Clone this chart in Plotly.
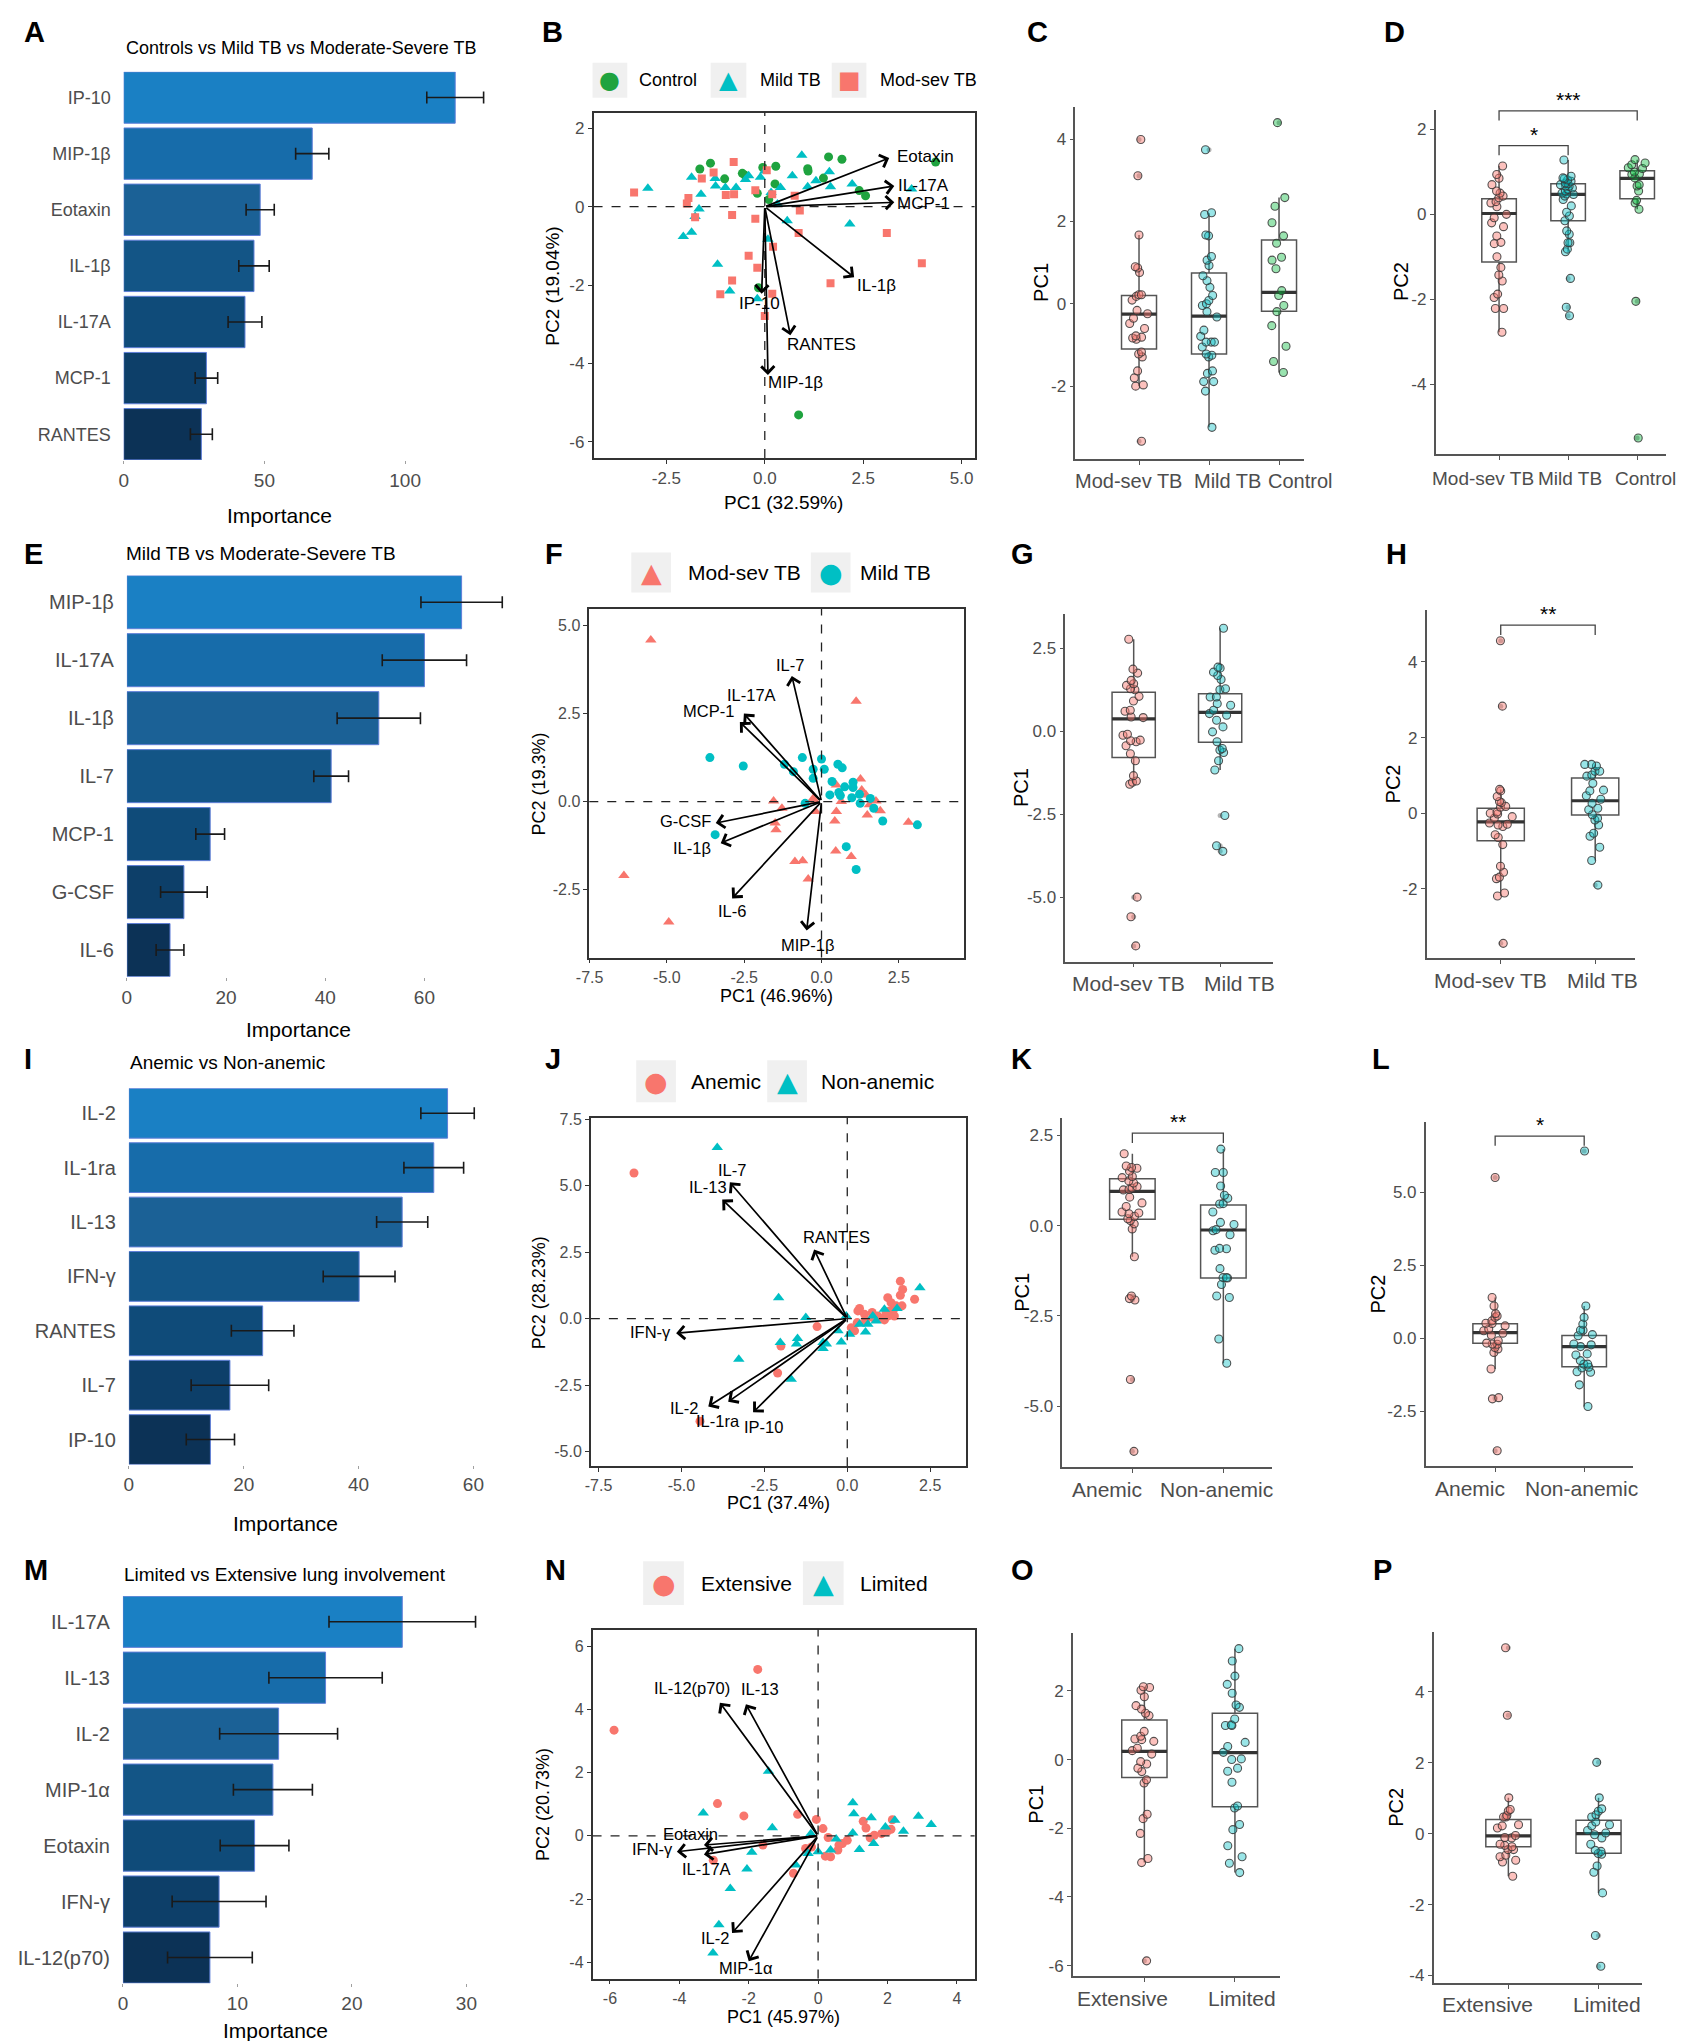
import plotly.graph_objects as go

W, H = 1686, 2041
FONT = "Liberation Sans, Arial, Helvetica, sans-serif"
GLYPH_FONT = "DejaVu Sans"
TICK_GREY = "#4d4d4d"
RED, CYAN, GREEN = "#F8766D", "#00BFC4", "#1FA33F"
FILL = {RED: "rgba(248,118,109,0.45)", CYAN: "rgba(0,191,196,0.40)", GREEN: "rgba(0,186,56,0.40)"}
BAR_COLORS = ["#1a80c4", "#176caa", "#1b6196", "#135586", "#0f4b79", "#0d3f69", "#0c3256"]

# ---------------- variable importance (bars) ----------------
A_names = ["IP-10", "MIP-1β", "Eotaxin", "IL-1β", "IL-17A", "MCP-1", "RANTES"]
A_imp = [117.8, 67.0, 48.5, 46.3, 43.1, 29.4, 27.6]
A_err = [10.1, 5.9, 5.0, 5.4, 6.0, 4.0, 3.9]

E_names = ["MIP-1β", "IL-17A", "IL-1β", "IL-7", "MCP-1", "G-CSF", "IL-6"]
E_imp = [67.5, 60.0, 50.8, 41.2, 16.8, 11.5, 8.7]
E_err = [8.2, 8.5, 8.4, 3.5, 2.9, 4.7, 2.8]

I_names = ["IL-2", "IL-1ra", "IL-13", "IFN-γ", "RANTES", "IL-7", "IP-10"]
I_imp = [55.5, 53.1, 47.6, 40.1, 23.3, 17.6, 14.2]
I_err = [4.65, 5.2, 4.45, 6.25, 5.45, 6.75, 4.2]

M_names = ["IL-17A", "IL-13", "IL-2", "MIP-1α", "Eotaxin", "IFN-γ", "IL-12(p70)"]
M_imp = [24.4, 17.7, 13.6, 13.1, 11.5, 8.4, 7.6]
M_err = [6.4, 4.95, 5.15, 3.45, 3.0, 4.1, 3.7]

# ---------------- PCA scores and loadings ----------------
B_ctrl_x = [-1.38, -1.65, -1.02, -0.57, -0.50, -0.05, 0.28, 1.09, 1.10, 1.62, 1.96, 1.49, 0.26, -0.19, 2.40, 2.56, 4.34, -0.16, 0.86, 0.10]
B_ctrl_y = [1.11, 0.96, 0.71, 0.85, 0.80, 1.00, 1.03, 0.97, 0.91, 1.27, 1.21, 0.73, 0.58, 0.34, 0.41, 0.28, 1.14, -2.07, -5.31, 0.18]
B_mild_x = [-2.97, -1.86, -1.62, -1.67, -1.77, -1.86, -2.07, -1.26, -1.25, -1.00, -0.73, -0.41, -0.11, 0.00, 0.40, 0.70,
            0.94, 1.09, 1.64, 1.67, 2.22, 2.16, 0.57, 0.08, -1.20, -0.89, -0.19, 3.73, 0.16, -0.49, 1.30, 0.32]
B_mild_y = [0.47, 0.75, 0.32, -0.06, -0.25, -0.65, -0.76, 0.72, 0.53, 0.49, 0.49, 0.79, 0.75, 0.91, 0.49, 0.79,
            1.31, 0.51, 0.89, 0.51, 0.58, -0.44, -0.36, -0.83, -1.47, -2.15, -2.35, 0.45, 0.36, 0.69, 0.66, 0.07]
B_mod_x = [-3.32, -1.94, -1.98, -1.77, -1.60, -1.30, -0.79, -0.99, -0.78, -0.83, -0.24, -0.24, 0.05, 0.19, 0.76, 0.89,
           0.86, 0.21, -0.41, -0.19, -0.83, -1.13, 0.19, 0.00, 1.67, 3.10, 3.99]
B_mod_y = [0.36, 0.22, 0.08, -0.27, 0.72, 0.87, 1.14, 0.30, 0.32, -0.21, 0.42, -0.31, 0.93, 0.32, 0.28, -0.10,
           -0.67, -1.02, -1.25, -1.56, -1.88, -2.23, -2.22, -2.79, -1.95, -0.67, -1.44]
B_load_names = ["Eotaxin", "IL-17A", "MCP-1", "IL-1β", "RANTES", "MIP-1β", "IP-10"]
B_load_x = [3.16, 3.29, 3.29, 2.27, 0.65, 0.08, -0.08]
B_load_y = [1.24, 0.53, 0.11, -1.80, -3.28, -4.29, -2.22]

F_mod_x = [-5.52, 1.12, -1.55, -1.28, -1.50, -1.47, -0.21, -0.27, -0.19, 0.48, 0.64, 1.26, 1.30, 1.44, 1.55, 1.76,
           1.90, 1.48, 0.48, 0.43, 2.81, 0.46, 0.96, -0.86, -0.61, -0.43, -6.39, -4.94]
F_mod_y = [4.59, 2.85, 0.02, -0.19, -0.61, -0.80, 0.00, 0.09, -0.28, 0.47, 0.00, 0.64, 0.33, 0.19, -0.09, 0.02,
           -0.26, -0.38, -0.28, -0.55, -0.59, -1.40, -1.56, -1.70, -1.68, -2.20, -2.10, -3.42]
F_mild_x = [-3.61, -2.53, -1.20, -0.91, -0.62, 0.00, 0.09, -0.27, -0.27, 0.53, 0.67, 0.34, 0.75, 1.02, 1.02, 0.56,
            0.27, 0.61, 0.98, 1.23, 1.25, 1.58, 1.69, 1.98, 3.10, -3.44, 0.80, 1.12, -0.53]
F_mild_y = [1.25, 1.01, 1.06, 0.85, 1.25, 1.21, 0.92, 0.92, 0.66, 1.06, 0.96, 0.57, 0.42, 0.55, 0.40, 0.26,
            0.19, 0.17, 0.11, 0.21, -0.05, 0.09, -0.19, -0.55, -0.66, -0.94, -1.28, -1.93, -0.05]
F_load_names = ["IL-7", "IL-17A", "MCP-1", "G-CSF", "IL-1β", "IL-6", "MIP-1β"]
F_load_x = [-0.96, -2.51, -2.64, -3.42, -3.26, -2.89, -0.48]
F_load_y = [3.57, 2.50, 2.26, -0.61, -1.18, -2.75, -3.66]

J_an_x = [-6.43, -0.91, -2.00, -2.10, -4.44, 0.37, 0.32, 0.12, 0.22, 0.30, 0.55, 0.75, 0.92, 1.07, 1.22, 1.22,
          1.32, 1.40, 1.47, 1.60, 1.67, 1.60, 1.65, 2.03, 1.27, 0.52, 1.17, 1.42, 0.77, 1.12]
J_an_y = [5.48, -0.30, -1.03, -2.05, -3.86, 0.38, 0.29, -0.34, -0.46, -0.15, -0.09, 0.23, 0.10, 0.00, 0.10, 0.79,
          0.60, 0.35, 0.48, 1.41, 1.10, 0.88, 0.48, 0.73, 0.29, 0.16, 0.23, 0.10, 0.04, -0.05]
J_non_x = [-3.92, -2.07, -1.25, -2.02, -1.50, -1.53, -3.27, -1.69, -0.73, -0.73, -0.63, -0.28, -0.18, -0.03, 0.07,
           0.37, 0.55, 0.62, 0.87, 1.12, 1.50, 2.19, 0.77]
J_non_y = [6.44, 0.79, 0.04, -0.90, -0.75, -0.96, -1.53, -2.28, -0.90, -1.13, -0.96, -0.46, -0.88, 0.10, -0.59,
           -0.21, -0.50, -0.21, -0.09, 0.35, 0.38, 1.16, 0.10]
J_load_names = ["IL-7", "IL-13", "RANTES", "IFN-γ", "IL-2", "IL-1ra", "IP-10"]
J_load_x = [-3.54, -3.77, -1.00, -5.16, -4.19, -3.59, -2.84]
J_load_y = [5.13, 4.48, 2.60, -0.55, -3.31, -3.13, -3.53]

N_ext_x = [-5.88, -1.74, -2.90, -2.14, -0.59, -0.05, 0.14, 0.29, -1.59, -3.02, -0.71, -0.36, -0.19, 0.21, 0.36,
           0.57, 0.60, 0.70, 0.84, 1.30, 1.38, 1.50, 1.62, 1.83, 2.00, 2.10, 2.14]
N_ext_y = [3.34, 5.26, 1.02, 0.63, 0.68, 0.52, 0.23, -0.05, -0.29, -0.77, -1.18, -0.40, -0.35, -0.64, -0.66,
           -0.45, -0.29, -0.24, -0.14, 0.46, 0.25, -0.06, 0.02, 0.07, 0.15, 0.21, 0.51]
N_lim_x = [-1.43, -3.31, -1.32, -1.91, -2.05, -2.53, -2.86, -3.03, -0.64, -0.29, 0.00, -0.21, 0.52, 0.36, 1.00,
           1.03, 1.00, 1.19, 1.53, 1.60, 1.94, 2.21, 2.46, 2.89, 3.26]
N_lim_y = [2.04, 0.72, 0.26, -0.52, -1.05, -1.66, -2.81, -3.70, -0.92, -0.56, -0.50, 0.07, -0.10, -0.45, 1.05,
           0.70, 0.09, -0.43, 0.57, -0.24, 0.28, 0.49, 0.15, 0.62, 0.36]
N_load_names = ["IL-12(p70)", "IL-13", "Eotaxin", "IFN-γ", "IL-17A", "IL-2", "MIP-1α"]
N_load_x = [-2.83, -2.08, -3.29, -4.07, -3.29, -2.48, -2.00]
N_load_y = [4.21, 4.16, -0.29, -0.50, -0.59, -3.07, -3.96]

# ---------------- PC scores per group (box plots) ----------------
TB3_groups = ["Mod-sev TB", "Mild TB", "Control"]
TB2_groups = ["Mod-sev TB", "Mild TB"]
AN_groups = ["Anemic", "Non-anemic"]
LUNG_groups = ["Extensive", "Limited"]

C_modsev = [3.99, 3.11, 1.67, 0.90, 0.87, 0.76, 0.22, 0.22, 0.18, 0.09, -0.16, -0.24, -0.35, -0.48, -0.60, -0.78,
            -0.81, -0.83, -0.86, -1.17, -1.22, -1.29, -1.63, -1.80, -1.97, -2.00, -3.34]
C_mild = [3.74, 2.21, 2.17, 1.65, 1.67, 1.15, 1.06, 0.93, 0.68, 0.56, 0.40, 0.20, 0.00, 0.08, -0.04, -0.19, -0.32,
          -0.64, -0.79, -0.93, -0.93, -0.93, -1.05, -1.25, -1.29, -1.22, -1.63, -1.69, -1.89, -1.89, -2.12, -3.00]
C_control = [4.40, 2.58, 2.37, 1.97, 1.65, 1.47, 1.13, 1.06, 0.85, 0.32, 0.20, -0.04, -0.19, -0.53, -1.03, -1.40, -1.67]
C_q1 = [-1.10, -1.22, -0.18]
C_med = [-0.25, -0.30, 0.28]
C_q3 = [0.20, 0.75, 1.55]
C_lo = [-2.00, -3.00, -1.67]
C_hi = [1.67, 2.20, 2.58]
C_out = [[3.99, 3.11, -3.34], [3.74], [4.40]]

D_modsev = [1.14, 0.94, 0.85, 0.70, 0.55, 0.43, 0.39, 0.27, 0.18, 0.00, -0.08, -0.20, -0.29, -0.51, -0.66, -0.69,
            -1.00, -1.25, -1.43, -1.57, -1.88, -1.96, -2.22, -2.22, -2.78, 0.50, 0.30]
D_mild = [1.28, 0.86, 0.81, 0.74, 0.72, 0.67, 0.59, 0.47, 0.43, -0.04, -0.39, -0.47, -0.67, -0.67, -0.82, -0.88,
          -1.51, -2.19, -2.39, 0.62, 0.55, 0.50, 0.48, 0.78, 0.84, 0.66, 0.35, 0.20, 0.05, -0.15, 0.90, 0.70]
D_control = [1.29, 1.21, 1.17, 1.10, 1.08, 0.94, 0.86, 0.70, 0.67, 0.55, 0.33, 0.27, 0.12, -2.05, -5.27, 0.95, 1.00]
D_q1 = [-1.12, -0.15, 0.37]
D_med = [0.02, 0.47, 0.85]
D_q3 = [0.37, 0.72, 1.03]
D_lo = [-2.78, -0.88, 0.12]
D_hi = [1.14, 1.28, 1.29]
D_out = [[], [-1.51, -2.19, -2.39], [-2.05, -5.27]]
D_sig = [(0, 1, 1.62, "*"), (0, 2, 2.44, "***")]

G_modsev = [2.77, 1.87, 1.75, 1.53, 1.38, 1.43, 1.25, 1.28, 1.05, 0.91, 0.63, 0.60, 0.43, 0.41, -0.09, -0.12, -0.27,
            -0.29, -0.32, -0.44, -0.68, -0.89, -1.34, -1.50, -1.60, -1.54, -5.00, -5.59, -6.47]
G_mild = [3.10, 1.68, 1.93, 1.90, 1.78, 1.56, 1.28, 1.25, 1.03, 0.78, 1.03, 0.83, 0.63, 0.53, 0.48, 0.33, 0.13,
          -0.02, -0.32, -0.57, -0.52, -0.64, -0.89, -1.17, -2.54, -3.45, -3.62]
G_q1 = [-0.79, -0.33]
G_med = [0.37, 0.57]
G_q3 = [1.17, 1.13]
G_lo = [-1.60, -1.17]
G_hi = [2.77, 3.10]
G_out = [[-5.00, -5.59, -6.47], [-2.54, -3.45, -3.62]]

H_modsev = [4.56, 2.83, 0.63, 0.59, 0.44, 0.31, 0.28, 0.18, 0.16, 0.00, -0.02, 0.03, -0.09, -0.13, -0.26, -0.31,
            -0.35, -0.29, -0.57, -0.64, -0.83, -1.40, -1.56, -1.69, -1.73, -2.11, -2.19, -3.44]
H_mild = [1.29, 1.29, 1.25, 1.11, 1.11, 1.01, 0.98, 0.79, 0.61, 0.59, 0.46, 0.37, 0.26, 0.13, 0.09, -0.04, -0.13,
          -0.18, -0.31, -0.61, -0.53, -0.90, -1.25, -1.90]
H_q1 = [-0.73, -0.05]
H_med = [-0.23, 0.33]
H_q3 = [0.13, 0.93]
H_lo = [-2.19, -1.25]
H_hi = [0.63, 1.29]
H_out = [[4.56, 2.83, -3.44], [-1.90]]
H_sig = [(0, 1, 4.97, "**")]

K_anemic = [1.99, 1.65, 1.61, 1.59, 1.36, 1.33, 1.51, 1.24, 1.18, 1.08, 1.04, 0.99, 1.00, 0.79, 0.63, 0.53, 0.38,
            0.35, 0.33, 0.26, 0.19, 0.14, 0.05, -0.09, -0.86, -2.06, -2.02, -1.95, -4.26, -6.25]
K_nonanemic = [2.12, 1.47, 1.47, 1.10, 0.84, 0.76, 0.60, 0.61, 0.38, 0.09, 0.03, -0.11, -0.14, -0.25, -0.63, -0.64,
               -0.68, -1.19, -1.44, -1.44, -1.45, -1.63, -1.95, -1.99, -3.14, -3.81]
K_q1 = [0.18, -1.45]
K_med = [0.95, -0.12]
K_q3 = [1.30, 0.57]
K_lo = [-0.86, -3.81]
K_hi = [1.99, 2.12]
K_out = [[-2.06, -2.02, -1.95, -4.26, -6.25], []]
K_sig = [(0, 1, 2.56, "**")]

L_anemic = [5.51, 1.40, 1.11, 0.85, 0.77, 0.72, 0.60, 0.52, 0.51, 0.32, 0.43, 0.26, 0.18, 0.11, -0.08, -0.16, -0.19,
            -0.20, -0.31, -0.36, -0.48, -1.05, -2.07, -2.03, -3.85]
L_nonanemic = [6.42, 1.11, 0.72, 0.49, 0.13, 0.09, 0.28, 0.28, -0.19, -0.22, -0.28, -0.57, -0.53, -0.76, -0.88,
               -1.01, -0.99, -0.88, -1.16, -1.14, -1.59, -2.33]
L_q1 = [-0.17, -0.97]
L_med = [0.20, -0.28]
L_q3 = [0.50, 0.10]
L_lo = [-1.05, -2.33]
L_hi = [1.40, 1.11]
L_out = [[5.51, -2.07, -2.03, -3.85], [6.42]]
L_sig = [(0, 1, 6.93, "*")]

O_extensive = [2.02, 2.10, 2.12, 1.83, 1.57, 1.47, 1.28, 1.35, 0.82, 0.68, 0.58, 0.60, 0.53, 0.33, 0.26, 0.16,
               -0.06, -0.13, -0.25, -0.35, -0.59, -0.68, -1.59, -1.72, -2.15, -2.88, -3.00, -5.86]
O_limited = [3.23, 2.87, 2.43, 2.19, 1.93, 1.59, 1.52, 1.18, 0.99, 1.01, 0.99, 0.38, 0.50, 0.21, 0.00, 0.02, -0.25,
             -0.34, -0.66, -1.35, -1.41, -1.89, -2.04, -2.51, -2.83, -3.02, -3.29]
O_q1 = [-0.52, -1.37]
O_med = [0.24, 0.20]
O_q3 = [1.15, 1.35]
O_lo = [-3.00, -3.29]
O_hi = [2.12, 3.23]
O_out = [[-5.86], []]

P_extensive = [5.24, 3.34, 1.01, 0.68, 0.64, 0.47, 0.51, 0.47, 0.22, 0.25, 0.16, -0.05, -0.11, -0.12, -0.30, -0.33,
               -0.37, -0.45, -0.45, -0.61, -0.75, -0.80, -0.65, -1.20]
P_limited = [2.01, 1.01, 0.70, 0.63, 0.53, 0.47, 0.25, 0.33, 0.22, 0.02, 0.09, -0.03, -0.12, -0.30, -0.47, -0.50,
             -0.58, -0.56, -0.91, -1.09, -1.67, -2.87, -3.74]
P_q1 = [-0.37, -0.55]
P_med = [-0.06, 0.00]
P_q3 = [0.40, 0.38]
P_lo = [-1.20, -1.67]
P_hi = [1.01, 1.01]
P_out = [[5.24, 3.34], [2.01, -2.87, -3.74]]

# ---------------- helpers ----------------
fig = go.Figure()
axes = {}
annotations = []
shapes = []


def ref(n):
    s = "" if n == 1 else str(n)
    return "x" + s, "y" + s, "xaxis" + s, "yaxis" + s


def px(x):
    return x / W


def py(y):
    return 1 - y / H


def label(x, y, s, size, color="black", xanchor="center", yanchor="middle", angle=0, family=FONT):
    annotations.append(dict(x=px(x), y=py(y), xref="paper", yref="paper", text=s, showarrow=False,
                            xanchor=xanchor, yanchor=yanchor, textangle=angle,
                            font=dict(size=size, color=color, family=family)))


def fmt(vals, dec):
    return [f"{v:.{dec}f}" for v in vals]


def bar_panel(n, names, imp, err, frame, xmax, xticks, ysize):
    xr, yr, xk, yk = ref(n)
    x0, x1, y0, y1 = frame
    fig.add_trace(go.Bar(x=imp, y=names, orientation="h", width=0.915,
                         marker=dict(color=BAR_COLORS, line=dict(color="#5f7fd8", width=1)),
                         error_x=dict(type="data", array=err, color="#1a1a1a", thickness=1.6, width=6),
                         xaxis=xr, yaxis=yr, showlegend=False))
    axes[xk] = dict(domain=[px(x0), px(x1)], anchor=yr, range=[0, xmax], tickvals=xticks,
                    ticks="outside", ticklen=3, tickcolor="#a0a0a0", showline=False, showgrid=False,
                    zeroline=False, tickfont=dict(size=19, color=TICK_GREY))
    axes[yk] = dict(domain=[py(y1), py(y0)], anchor=xr, type="category", categoryorder="array",
                    categoryarray=names, range=[len(names) - 0.54, -0.46], showline=False, showgrid=False,
                    zeroline=False, ticks="", ticklabelstandoff=12, tickfont=dict(size=ysize, color=TICK_GREY))


def pca_panel(n, groups, lnames, lx, ly, shifts, frame, xrange, yrange, xticks, yticks, xdec, ydec,
              xtitle, ytitle, title_pos, tsize, lsize):
    xr, yr, xk, yk = ref(n)
    x0, x1, y0, y1 = frame
    for gx, gy, sym, col, size in groups:
        fig.add_trace(go.Scatter(x=gx, y=gy, mode="markers", xaxis=xr, yaxis=yr, showlegend=False,
                                 marker=dict(symbol=sym, color=col, size=size, line=dict(width=0))))
    common = dict(showline=True, mirror=True, linecolor="#333333", linewidth=1.6, ticks="outside", ticklen=4,
                  tickcolor="#333333", showgrid=False, zeroline=False, tickfont=dict(size=tsize, color=TICK_GREY))
    axes[xk] = dict(domain=[px(x0), px(x1)], anchor=yr, range=xrange, tickvals=xticks,
                    ticktext=fmt(xticks, xdec), **common)
    axes[yk] = dict(domain=[py(y1), py(y0)], anchor=xr, range=yrange, tickvals=yticks,
                    ticktext=fmt(yticks, ydec), **common)
    shapes.append(dict(type="line", xref=xr, yref=yr + " domain", x0=0, x1=0, y0=0, y1=1,
                       line=dict(color="#222222", width=1.3, dash="dash")))
    shapes.append(dict(type="line", xref=xr + " domain", yref=yr, x0=0, x1=1, y0=0, y1=0,
                       line=dict(color="#222222", width=1.3, dash="dash")))
    for name, ex, ey, (dx, dy) in zip(lnames, lx, ly, shifts):
        annotations.append(dict(x=ex, y=ey, xref=xr, yref=yr, ax=0, ay=0, axref=xr, ayref=yr, text="",
                                showarrow=True, arrowhead=4, arrowsize=1.5, arrowwidth=1.7, arrowcolor="black",
                                standoff=0))
        annotations.append(dict(x=ex, y=ey, xref=xr, yref=yr, text=name, showarrow=False, xshift=dx, yshift=dy,
                                font=dict(size=lsize, color="black", family=FONT)))
    (tx, ty), (lxp, lyp) = title_pos
    label(tx, ty, xtitle, tsize + 2)
    label(lxp, lyp, ytitle, tsize + 2, angle=-90)


def legend(items, y0, y1, size, gsize):
    for kx, kw, tx, glyph, col, text in items:
        shapes.append(dict(type="rect", xref="paper", yref="paper", x0=px(kx), x1=px(kx + kw), y0=py(y1), y1=py(y0),
                           fillcolor="#f0f0f0", line=dict(width=0), layer="below"))
        label(kx + kw / 2, (y0 + y1) / 2, glyph, gsize, color=col, family=GLYPH_FONT)
        label(tx, (y0 + y1) / 2, text, size, xanchor="left")


def box_panel(n, cats, points, q1, med, q3, lo, hi, outs, colors, frame, xrange, yrange, yticks, ydec,
              ytitle, ytitle_x, sig, cat_label):
    xr, yr, xk, yk = ref(n)
    x0, x1, y0, y1 = frame
    clear = "rgba(0,0,0,0)"
    for i, vals in enumerate(points):
        fig.add_trace(go.Box(x=[i], q1=[q1[i]], median=[med[i]], q3=[q3[i]], lowerfence=[lo[i]],
                             upperfence=[hi[i]], width=0.5, whiskerwidth=0, fillcolor=clear, boxpoints=False,
                             line=dict(color="#555555", width=1.5), xaxis=xr, yaxis=yr, showlegend=False))
        fig.add_trace(go.Box(x=[i], q1=[med[i]], median=[med[i]], q3=[med[i]], lowerfence=[med[i]],
                             upperfence=[med[i]], width=0.5, whiskerwidth=0, fillcolor=clear, boxpoints=False,
                             line=dict(color="#333333", width=3.2), xaxis=xr, yaxis=yr, showlegend=False))
        if outs[i]:
            fig.add_trace(go.Box(x=[i] * len(outs[i]), y=outs[i], boxpoints="all", jitter=0, pointpos=0,
                                 width=0.5, fillcolor=clear, line=dict(color=clear, width=0),
                                 marker=dict(size=5, color="#b5b5b5"), xaxis=xr, yaxis=yr, showlegend=False))
        fig.add_trace(go.Box(x=[i] * len(vals), y=vals, boxpoints="all", jitter=0.55, pointpos=0, width=0.5,
                             fillcolor=clear, line=dict(color=clear, width=0),
                             marker=dict(size=8, color=FILL[colors[i]], line=dict(color="rgba(55,55,55,0.85)", width=1.1)),
                             xaxis=xr, yaxis=yr, showlegend=False))
    axes[xk] = dict(domain=[px(x0), px(x1)], anchor=yr, range=xrange, tickvals=list(range(len(cats))),
                    showticklabels=False, showline=True, linecolor="#555555", linewidth=1.5, ticks="outside",
                    ticklen=4, tickcolor="#555555", showgrid=False, zeroline=False)
    axes[yk] = dict(domain=[py(y1), py(y0)], anchor=xr, range=yrange, tickvals=yticks, ticktext=fmt(yticks, ydec),
                    showline=True, linecolor="#555555", linewidth=1.5, ticks="outside", ticklen=4,
                    tickcolor="#555555", showgrid=False, zeroline=False, tickfont=dict(size=17, color=TICK_GREY))
    # category names sit a little off their tick marks, as in the original
    gap, csize, cshift = cat_label
    for i, (cat, dx) in enumerate(zip(cats, cshift)):
        annotations.append(dict(x=i, y=py(y1 + gap), xref=xr, yref="paper", text=cat, showarrow=False, xshift=dx,
                                yanchor="top", font=dict(size=csize, color=TICK_GREY, family=FONT)))
    label(ytitle_x, (y0 + y1) / 2, ytitle, 20, angle=-90)
    tip = 0.028 * (yrange[1] - yrange[0])
    for a, b, h, s in sig:
        shapes.append(dict(type="path", xref=xr, yref=yr,
                           path=f"M {a},{h - tip} L {a},{h} L {b},{h} L {b},{h - tip}",
                           line=dict(color="#444444", width=1.3)))
        annotations.append(dict(x=(a + b) / 2, y=h, xref=xr, yref=yr, text=s, showarrow=False,
                                yanchor="bottom", yshift=-2, font=dict(size=21, color="black", family=FONT)))


# ---------------- column 1: importance bars ----------------
bar_panel(1, A_names, A_imp, A_err, (103.5, 475, 57, 447), 131, [0, 50, 100], 18)
bar_panel(5, E_names, E_imp, E_err, (106.7, 490, 563, 966), 76.7, [0, 20, 40, 60], 20)
bar_panel(9, I_names, I_imp, I_err, (108.7, 475, 1078, 1456), 63.3, [0, 20, 40, 60], 20)
bar_panel(13, M_names, M_imp, M_err, (102.7, 465, 1588, 1977), 31.4, [0, 10, 20, 30], 20)
label(104, 33, "Controls vs Mild TB vs Moderate-Severe TB", 18, xanchor="left")
label(104, 541, "Mild TB vs Moderate-Severe TB", 19, xanchor="left")
label(108, 1052, "Anemic vs Non-anemic", 19, xanchor="left")
label(102, 1566, "Limited vs Extensive lung involvement", 19, xanchor="left")
for xc, yc in [(261, 503), (280, 1019), (267, 1515), (256, 2024)]:
    label(xc, yc, "Importance", 21)

# ---------------- column 2: PCA biplots ----------------
pca_panel(2, [(B_ctrl_x, B_ctrl_y, "circle", GREEN, 9), (B_mild_x, B_mild_y, "triangle-up", CYAN, 10),
              (B_mod_x, B_mod_y, "square", RED, 8)],
          B_load_names, B_load_x, B_load_y,
          [(36, 2), (29, 0), (29, -1), (22, -8), (31, -9), (28, -8), (-2, -10)],
          (577, 961, 98, 445), [-4.35, 5.33], [-6.41, 2.4], [-2.5, 0, 2.5, 5], [-6, -4, -2, 0, 2], 1, 0,
          "PC1 (32.59%)", "PC2 (19.04%)", ((768, 490), (536, 272)), 17, 17)
pca_panel(6, [(F_mod_x, F_mod_y, "triangle-up", RED, 10), (F_mild_x, F_mild_y, "circle", CYAN, 9)],
          F_load_names, F_load_x, F_load_y,
          [(-2, 11), (8, 19), (-31, 11), (-30, 2), (-29, -5), (0, -13), (1, -15)],
          (572.7, 950.7, 596.7, 946.7), [-7.51, 4.62], [-4.43, 5.47], [-7.5, -5, -2.5, 0, 2.5],
          [-2.5, 0, 2.5, 5], 1, 1, "PC1 (46.96%)", "PC2 (19.3%)", ((761, 985), (522, 772)), 16, 16.5)
pca_panel(10, [(J_an_x, J_an_y, "circle", RED, 9), (J_non_x, J_non_y, "triangle-up", CYAN, 10)],
          J_load_names, J_load_x, J_load_y,
          [(2, 12), (-14, 13), (22, 13), (-26, 1), (-24, -1), (-10, -19), (10, -15)],
          (574.3, 952.7, 1107.7, 1457.7), [-7.73, 3.59], [-5.56, 7.56], [-7.5, -5, -2.5, 0, 2.5],
          [-5, -2.5, 0, 2.5, 5, 7.5], 1, 1, "PC1 (37.4%)", "PC2 (28.23%)", ((763, 1495), (522, 1283)), 16, 16.5)
pca_panel(14, [(N_ext_x, N_ext_y, "circle", RED, 9), (N_lim_x, N_lim_y, "triangle-up", CYAN, 10)],
          N_load_names, N_load_x, N_load_y,
          [(-28, 15), (14, 15), (-13, 11), (-24, 3), (3, -14), (-17, -5), (-3, -7)],
          (576, 961, 1621.7, 1972.3), [-6.5, 4.51], [-4.51, 6.52], [-6, -4, -2, 0, 2, 4],
          [-4, -2, 0, 2, 4, 6], 0, 0, "PC1 (45.97%)", "PC2 (20.73%)", ((768, 2011), (526, 1797)), 16, 16.5)

legend([(576, 35, 621, "●", GREEN, "Control"), (695, 36, 743, "▲", CYAN, "Mild TB"),
        (817, 35, 864, "■", RED, "Mod-sev TB")], 48, 83, 18, 24)
legend([(615, 40, 670, "▲", RED, "Mod-sev TB"), (796, 40, 843, "●", CYAN, "Mild TB")], 540, 580, 21, 27)
legend([(620, 40, 673, "●", RED, "Anemic"), (752, 40, 804, "▲", CYAN, "Non-anemic")], 1050, 1092, 21, 27)
legend([(627, 41, 683, "●", RED, "Extensive"), (788, 41, 843, "▲", CYAN, "Limited")], 1553, 1597, 21, 27)

# ---------------- columns 3-4: PC1 / PC2 box plots ----------------
box_panel(3, TB3_groups, [C_modsev, C_mild, C_control], C_q1, C_med, C_q3, C_lo, C_hi, C_out,
          [RED, CYAN, GREEN], (1062.5, 1292.5, 92, 446), [-0.91, 2.35], [-3.77, 4.79], [-2, 0, 2, 4], 0,
          "PC1", 1028, [], (9, 20, [-11, 18, 21]))
box_panel(4, TB3_groups, [D_modsev, D_mild, D_control], D_q1, D_med, D_q3, D_lo, D_hi, D_out,
          [RED, CYAN, GREEN], (1425.5, 1658, 95, 441), [-0.92, 2.42], [-5.65, 2.47], [-4, -2, 0, 2], 0,
          "PC2", 1391, D_sig, (12, 19, [-16, 2, 8]))
box_panel(7, TB2_groups, [G_modsev, G_mild], G_q1, G_med, G_q3, G_lo, G_hi, G_out, [RED, CYAN],
          (1052.5, 1261.6, 601.7, 950.7), [-0.79, 1.61], [-6.94, 3.53], [-5, -2.5, 0, 2.5], 1,
          "PC1", 1008, [], (9, 21, [-5, 19]))
box_panel(8, TB2_groups, [H_modsev, H_mild], H_q1, H_med, H_q3, H_lo, H_hi, H_out, [RED, CYAN],
          (1416.5, 1626.4, 597.7, 947.3), [-0.785, 1.42], [-3.83, 5.37], [-2, 0, 2, 4], 0,
          "PC2", 1383, H_sig, (9, 21, [-10, 7]))
box_panel(11, AN_groups, [K_anemic, K_nonanemic], K_q1, K_med, K_q3, K_lo, K_hi, K_out, [RED, CYAN],
          (1049.4, 1260.3, 1108.3, 1458.3), [-0.77, 1.53], [-6.68, 2.97], [-5, -2.5, 0, 2.5], 1,
          "PC1", 1008, K_sig, (9, 21, [-25, -7]))
box_panel(12, AN_groups, [L_anemic, L_nonanemic], L_q1, L_med, L_q3, L_lo, L_hi, L_out, [RED, CYAN],
          (1415.6, 1624.7, 1111.7, 1457.7), [-0.78, 1.55], [-4.38, 7.42], [-2.5, 0, 2.5, 5], 1,
          "PC2", 1368, L_sig, (9, 21, [-25, -3]))
box_panel(15, LUNG_groups, [O_extensive, O_limited], O_q1, O_med, O_q3, O_lo, O_hi, O_out, [RED, CYAN],
          (1060, 1269, 1625, 1970), [-0.79, 1.5], [-6.31, 3.69], [-6, -4, -2, 0, 2], 0,
          "PC1", 1022, [], (9, 21, [-22, 7]))
box_panel(16, LUNG_groups, [P_extensive, P_limited], P_q1, P_med, P_q3, P_lo, P_hi, P_out, [RED, CYAN],
          (1423.5, 1633.4, 1624, 1976.7), [-0.83, 1.48], [-4.21, 5.69], [-4, -2, 0, 2, 4], 0,
          "PC2", 1386, [], (8, 21, [-21, 8]))

# ---------------- panel letters ----------------
for s, x, y in [("A", 1, 17), ("B", 523, 17), ("C", 1012, 17), ("D", 1372, 17),
                ("E", 1, 541), ("F", 526, 541), ("G", 996, 541), ("H", 1374, 541),
                ("I", 1, 1049), ("J", 526, 1049), ("K", 996, 1049), ("L", 1359, 1049),
                ("M", 1, 1562), ("N", 526, 1562), ("O", 996, 1562), ("P", 1360, 1562)]:
    label(x, y, f"<b>{s}</b>", 29, xanchor="left")

fig.update_layout(width=W, height=H, margin=dict(l=0, r=0, t=0, b=0), showlegend=False,
                  plot_bgcolor="white", paper_bgcolor="white", boxmode="overlay",
                  font=dict(family=FONT, color="black"), annotations=annotations, shapes=shapes, **axes)

fig.write_html("out.html")
